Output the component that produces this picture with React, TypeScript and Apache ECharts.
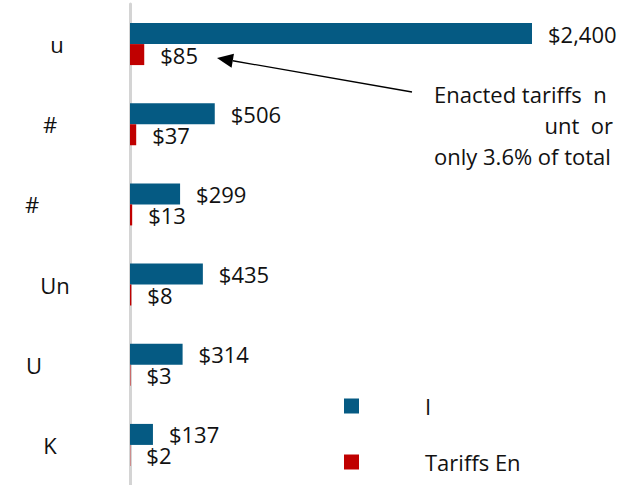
import React, { useEffect, useRef } from "react";
import * as echarts from "echarts";

const categories = ["u", "#", "#", "Un", "U", "K"];
const seriesNames = ["I", "Tariffs En"];
const totalValues = [2400, 506, 299, 435, 314, 137];
const tariffValues = [85, 37, 13, 8, 3, 2];
const noteLines = ["Enacted tariffs  n", "unt  or", "only 3.6% of total"];

// layout: centre x of each category label (px)
const labelCentres = [57, 50, 32, 55, 34, 50];

const FONT = "Open Sans";
const AXIS_X = 130;

function money(v: number) {
  return "$" + v.toLocaleString("en-US");
}

export default function App() {
  const ref = useRef<HTMLDivElement>(null);
  useEffect(() => {
    if (!ref.current) return;
    const chart = echarts.init(ref.current, undefined, { renderer: "svg" });
    const rich: Record<string, any> = {};
    labelCentres.forEach((c, i) => {
      rich["c" + i] = {
        width: 2 * (AXIS_X - c),
        align: "center",
        fontFamily: FONT,
        fontSize: 22,
        color: "#111",
      };
    });

    // arrow geometry
    const tail = [412, 92];
    const tip = [217, 58];
    const dx = tip[0] - tail[0];
    const dy = tip[1] - tail[1];
    const len = Math.sqrt(dx * dx + dy * dy);
    const ux = dx / len;
    const uy = dy / len;
    const headLen = 16;
    const halfW = 7;
    const bx = tip[0] - ux * headLen;
    const by = tip[1] - uy * headLen;
    const nx = -uy;
    const ny = ux;

    chart.setOption({
      animation: false,
      grid: { left: AXIS_X, top: 4, width: 502.5, height: 485, containLabel: false },
      xAxis: {
        type: "value",
        min: 0,
        max: 3000,
        show: false,
      },
      yAxis: {
        type: "category",
        inverse: true,
        data: categories,
        axisLine: { show: true, lineStyle: { color: "#d4d4d4", width: 3 } },
        axisTick: { show: false },
        axisLabel: {
          interval: 0,
          margin: 0,
          align: "right",
          formatter: (v: string, i: number) => `{c${i}|${v}}`,
          rich,
        },
      },
      legend: {
        orient: "vertical",
        left: 344,
        top: 395,
        width: 280,
        height: 200,
        padding: 0,
        itemWidth: 15,
        itemHeight: 15,
        itemGap: 34,
        icon: "rect",
        selectedMode: false,
        textStyle: {
          fontFamily: FONT,
          fontSize: 22,
          color: "#111",
          lineHeight: 15,
          padding: [0, 0, 0, 61],
        },
        data: seriesNames,
      },
      series: [
        {
          name: seriesNames[0],
          type: "bar",
          data: totalValues,
          barWidth: 21,
          barGap: "0%",
          itemStyle: { color: "#055a83" },
          label: {
            show: true,
            position: "right",
            distance: 16,
            formatter: (p: any) => money(p.value),
            fontFamily: FONT,
            fontSize: 22,
            color: "#111",
          },
        },
        {
          name: seriesNames[1],
          type: "bar",
          data: tariffValues,
          barWidth: 21,
          itemStyle: { color: "#c00000" },
          label: {
            show: true,
            position: "right",
            distance: 16,
            formatter: (p: any) => money(p.value),
            fontFamily: FONT,
            fontSize: 22,
            color: "#111",
          },
        },
      ],
      graphic: [
        {
          type: "line",
          shape: { x1: tail[0], y1: tail[1], x2: bx, y2: by },
          style: { stroke: "#000", lineWidth: 1.3 },
        },
        {
          type: "polygon",
          shape: {
            points: [
              [tip[0], tip[1]],
              [bx + nx * halfW, by + ny * halfW],
              [bx - nx * halfW, by - ny * halfW],
            ],
          },
          style: { fill: "#000" },
        },
        {
          type: "text",
          left: 434,
          top: 83,
          style: { text: noteLines[0], font: `22px "${FONT}"`, fill: "#111" },
        },
        {
          type: "text",
          right: 634 - 613,
          top: 114,
          style: { text: noteLines[1], font: `22px "${FONT}"`, fill: "#111", align: "right" },
        },
        {
          type: "text",
          left: 434,
          top: 145,
          style: { text: noteLines[2], font: `22px "${FONT}"`, fill: "#111" },
        },
      ],
    });
    return () => chart.dispose();
  }, []);
  return (
    <div
      ref={ref}
      style={{ position: "fixed", left: 0, top: 0, width: 634, height: 485, background: "#fff" }}
    />
  );
}
